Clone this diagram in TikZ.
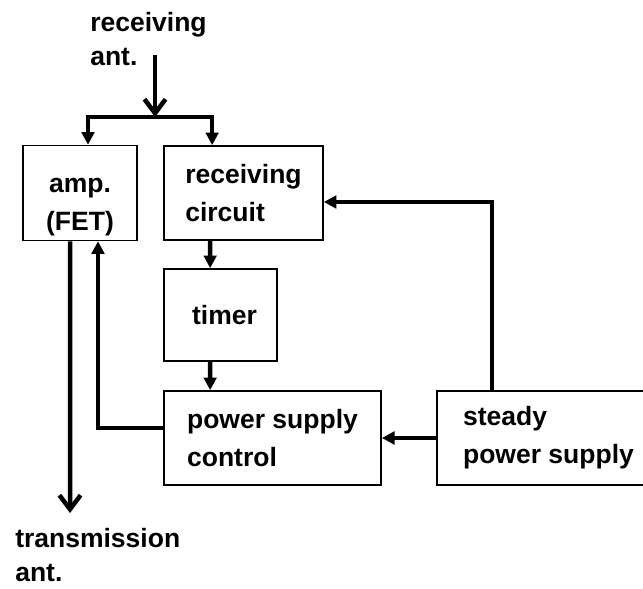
\documentclass[tikz,border=0pt]{standalone}
\usepackage{fontspec}
\setmainfont{Liberation Sans}
\usetikzlibrary{arrows.meta, calc}

\begin{document}
\begin{tikzpicture}[>={Triangle[length=9pt, width=9pt]}, every node/.style={font=\fontsize{18.85}{27}\selectfont\bfseries},
  blk/.style={draw, line width=1.2pt, minimum height=2.35cm},
  tag/.style={anchor=north west, inner sep=0pt, align=left, font=\fontsize{18.85}{24}\selectfont\bfseries},
  wire/.style={line width=3.2pt},
  barb/.style={wire, -{Straight Barb[length=10pt, width=15pt]}}]
  \useasboundingbox (0,0) rectangle (16.075,-14.725);
  \clip (0,0) rectangle (16.075,-14.725);
  \node[blk, align=center, minimum width=2.85cm, text height=2cm] (amp) at (2.0,-4.825) {amp.\\(FET)};
  \node[blk, align=left, minimum width=3.975cm] (recv) at (6.0875,-4.825) {receiving\\circuit};
  \node[blk, align=center, minimum width=2.825cm, minimum height=2.3cm] (timer) at (5.5125,-7.875) {\hspace{0.2cm}timer};
  \node[blk, align=left, minimum width=5.425cm] (psc) at (6.8125,-10.95) {power supply\\control};
  \node[blk, align=left, minimum width=5.575cm] (steady) at (13.7125,-10.95) {steady\\power supply};
  \node[tag] (rxant) at (2.25,-0.3) {receiving\\ant.};
  \node[tag] (txant) at (0.375,-13.2) {transmission\\ant.};
  \coordinate (rxin) at (3.875,-1.375);
  \coordinate (split) at (3.875,-2.925);
  \coordinate (txin) at (1.75,-12.825);
  \draw[barb] (rxin) -- (split);
  \draw[wire, ->] (split) -| ($(amp.north)+(0.2,0)$);
  \draw[wire, ->] (split) -| ($(recv.north west)+(1.225,0)$);
  \draw[wire, ->] ($(recv.south west)+(1.175,0)$) -- ($(timer.north west)+(1.175,0)$);
  \draw[wire, ->] ($(timer.south west)+(1.175,0)$) -- ($(psc.north west)+(1.175,0)$);
  \draw[barb] ($(amp.south)+(-0.25,0)$) -- (txin);
  \draw[wire, ->] ($(psc.west)+(0,0.25)$) -| ($(amp.south)+(0.45,0)$);
  \draw[wire, ->] ($(steady.north west)+(1.4,0)$) |- ($(recv.east)+(0,-0.225)$);
  \draw[wire, ->] (steady.west) -- (psc.east);
\end{tikzpicture}
\end{document}
